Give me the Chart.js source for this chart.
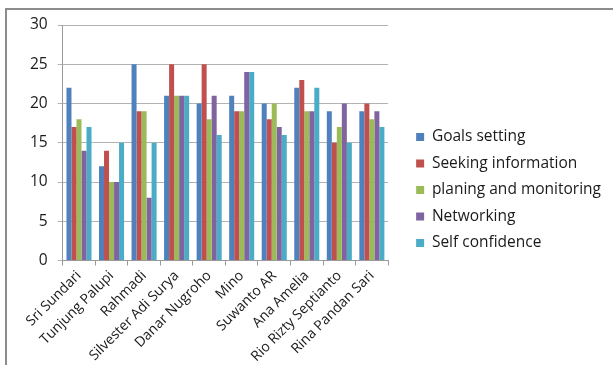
<!DOCTYPE html>
<html lang="en">
<head>
    <meta charset="UTF-8">
    <title>Kompetensi Wirausaha</title>
    <script src="https://cdn.jsdelivr.net/npm/chart.js"></script>
    <style>
        html, body { margin: 0; padding: 0; background: #fff; }
        .chart-box { position: relative; width: 613px; height: 365px; }
    </style>
</head>
<body>
    <div class="chart-box">
        <canvas id="skillChart" width="613" height="365"></canvas>
    </div>

    <script>
        const names = ["Sri Sundari", "Tunjung Palupi", "Rahmadi", "Silvester Adi Surya", "Danar Nugroho",
            "Mino", "Suwanto AR", "Ana Amelia", "Rio Rizty Septianto", "Rina Pandan Sari"];

        const goalsSetting = [22, 12, 25, 21, 20, 21, 20, 22, 19, 19];
        const seekingInformation = [17, 14, 19, 25, 25, 19, 18, 23, 15, 20];
        const planingMonitoring = [18, 10, 19, 21, 18, 19, 20, 19, 17, 18];
        const networking = [14, 10, 8, 21, 21, 24, 17, 19, 20, 19];
        const selfConfidence = [17, 15, 15, 21, 16, 24, 16, 22, 15, 17];

        const yTicks = [0, 5, 10, 15, 20, 25, 30];

        // grey frame along the top and left edge
        const framePlugin = {
            id: "frame",
            beforeDraw(chart) {
                const c = chart.ctx;
                c.save();
                c.strokeStyle = "#8c8c8c";
                c.lineWidth = 2;
                c.beginPath();
                c.moveTo(6, 365);
                c.lineTo(6, 9);
                c.lineTo(613, 9);
                c.stroke();
                c.restore();
            }
        };

        // lift the legend block a little above the centre
        const legendLift = {
            id: "legendLift",
            afterLayout(chart) {
                if (chart.legend) {
                    chart.legend.top -= 6;
                    chart.legend.bottom -= 6;
                }
            }
        };

        const fontFamily = "'Open Sans', Lato, sans-serif";

        new Chart(document.getElementById("skillChart"), {
            type: "bar",
            data: {
                labels: names,
                datasets: [
                    { label: "Goals setting", data: goalsSetting, backgroundColor: "#4F81BD" },
                    { label: "Seeking information", data: seekingInformation, backgroundColor: "#C0504D" },
                    { label: "planing and monitoring", data: planingMonitoring, backgroundColor: "#9BBB59" },
                    { label: "Networking", data: networking, backgroundColor: "#8064A2" },
                    { label: "Self confidence", data: selfConfidence, backgroundColor: "#4BACC6" }
                ]
            },
            options: {
                responsive: false,
                animation: false,
                layout: { padding: { top: 25, right: 2, left: 20, bottom: -2 } },
                datasets: {
                    bar: { categoryPercentage: 0.77, barPercentage: 1.0, borderWidth: 0 }
                },
                plugins: {
                    tooltip: { enabled: false },
                    legend: {
                        position: "right",
                        align: "center",
                        maxWidth: 260,
                        labels: {
                            boxWidth: 8,
                            boxHeight: 8,
                            padding: 11,
                            color: "#1a1a1a",
                            font: { family: fontFamily, size: 15.5 }
                        }
                    }
                },
                scales: {
                    x: {
                        grid: {
                            display: true,
                            drawOnChartArea: false,
                            color: "#9a9a9a",
                            tickLength: 5
                        },
                        border: { color: "#9a9a9a" },
                        ticks: {
                            minRotation: 45,
                            maxRotation: 45,
                            color: "#1a1a1a",
                            padding: 2,
                            font: { family: fontFamily, size: 14 }
                        }
                    },
                    y: {
                        min: 0,
                        max: 30,
                        afterBuildTicks(axis) {
                            axis.ticks = yTicks.map(v => ({ value: v }));
                        },
                        grid: { color: "#b3b3b3", tickLength: 5 },
                        border: { color: "#9a9a9a" },
                        ticks: {
                            color: "#1a1a1a",
                            padding: 10,
                            font: { family: fontFamily, size: 15.5 }
                        }
                    },
                    // empty spacer between the plot and the legend
                    gap: {
                        position: "right",
                        grid: { display: false, drawTicks: false },
                        border: { display: false },
                        ticks: { display: false },
                        afterFit(axis) { axis.width = 17; }
                    }
                }
            },
            plugins: [framePlugin, legendLift]
        });
    </script>
</body>
</html>
